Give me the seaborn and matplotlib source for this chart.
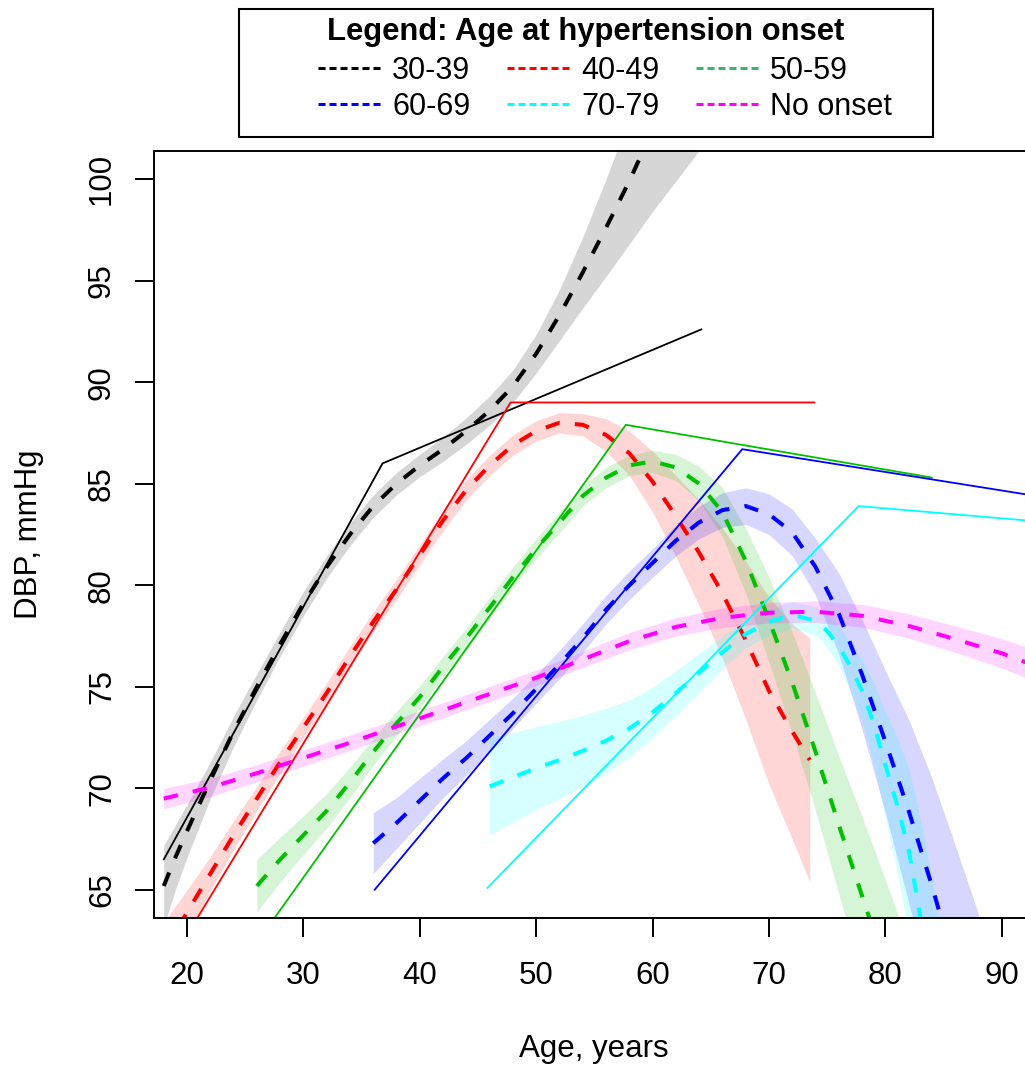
import matplotlib
matplotlib.use("Agg")
import matplotlib.pyplot as plt
from matplotlib.lines import Line2D
from matplotlib.patches import Rectangle
import numpy as np
import seaborn as sns

groups = ["30-39", "40-49", "50-59", "60-69", "70-79", "No onset"]
colors = ["#000000", "#FF0000", "#00C000", "#0000FF", "#00FFFF", "#FF00FF"]
legend_colors = ["#000000", "#FF0000", "#3CB371", "#0000FF", "#00FFFF", "#FF00FF"]

# fitted trajectories (dashed) and half-width of the confidence band
age_3039 = [18, 19, 20, 22, 24, 26, 28, 30, 32, 34, 36, 38, 40, 42, 44, 46, 48, 50, 52, 54, 56, 58, 60, 62, 64]
dbp_3039 = [65.2, 66.6, 67.9, 70.4, 72.8, 75.0, 77.1, 79.1, 80.9, 82.5, 83.9, 85.0, 85.9, 86.7, 87.6, 88.6,
            89.8, 91.4, 93.3, 95.4, 97.6, 99.9, 102.4, 105.0, 107.8]
ci_3039 = [2.0, 1.6, 1.3, 0.9, 0.75, 0.65, 0.6, 0.6, 0.55, 0.55, 0.55, 0.55, 0.55, 0.6, 0.65, 0.72,
           0.8, 0.95, 1.25, 1.75, 2.4, 3.1, 4.0, 5.1, 6.4]

age_4049 = [18, 20, 22, 24, 26, 28, 30, 32, 34, 36, 38, 40, 42, 44, 46, 48, 50, 52, 54, 56, 58, 60, 62, 64,
            66, 68, 70, 72, 73.5]
dbp_4049 = [61.9, 63.9, 65.8, 67.7, 69.5, 71.3, 73.0, 74.7, 76.5, 78.2, 79.8, 81.5, 83.2, 84.7, 85.9, 86.9,
            87.6, 88.0, 87.9, 87.4, 86.5, 85.1, 83.4, 81.6, 79.6, 77.3, 74.8, 72.8, 71.4]
ci_4049 = [1.5, 1.1, 0.85, 0.7, 0.6, 0.55, 0.5, 0.5, 0.5, 0.5, 0.5, 0.5, 0.5, 0.5, 0.5, 0.5, 0.5, 0.5, 0.55,
           0.8, 1.1, 1.5, 2.0, 2.6, 3.2, 3.9, 4.6, 5.3, 6.0]

age_5059 = [26, 28, 30, 32, 34, 36, 38, 40, 42, 44, 46, 48, 50, 52, 54, 56, 58, 60, 62, 64, 66, 68, 70, 72,
            74, 76, 78, 80, 82, 84]
dbp_5059 = [65.2, 66.5, 67.7, 68.9, 70.3, 71.8, 73.2, 74.5, 76.0, 77.4, 78.9, 80.4, 81.8, 83.1, 84.4, 85.3,
            85.9, 86.1, 85.8, 85.0, 83.6, 81.2, 78.3, 75.2, 71.8, 68.2, 64.7, 61.2, 57.5, 53.7]
ci_5059 = [1.3, 1.1, 0.95, 0.85, 0.75, 0.65, 0.6, 0.55, 0.5, 0.5, 0.5, 0.5, 0.5, 0.5, 0.5, 0.5, 0.5, 0.55,
           0.65, 0.85, 1.2, 1.6, 2.1, 2.5, 2.9, 3.4, 3.9, 4.3, 4.8, 5.3]

age_6069 = [36, 38, 40, 42, 44, 46, 48, 50, 52, 54, 56, 58, 60, 62, 64, 66, 68, 70, 72, 74, 76, 78, 80, 82,
            84, 86, 88]
dbp_6069 = [67.3, 68.3, 69.4, 70.5, 71.5, 72.6, 73.7, 74.9, 76.1, 77.4, 78.8, 80.0, 81.1, 82.2, 83.1, 83.7,
            83.9, 83.5, 82.6, 80.9, 78.6, 75.6, 72.3, 68.9, 65.2, 61.2, 57.0]
ci_6069 = [1.5, 1.25, 1.1, 0.95, 0.85, 0.8, 0.75, 0.7, 0.7, 0.7, 0.7, 0.7, 0.7, 0.75, 0.8, 0.85, 0.9, 1.0,
           1.15, 1.4, 2.0, 2.7, 3.5, 4.5, 5.3, 6.0, 6.8]

age_7079 = [46, 48, 50, 52, 54, 56, 58, 60, 62, 64, 66, 68, 70, 72, 74, 75, 76, 77, 78, 79, 80, 81, 82, 83,
            84, 85]
dbp_7079 = [70.1, 70.55, 71.0, 71.4, 71.85, 72.35, 72.95, 73.75, 74.7, 75.7, 76.7, 77.6, 78.2, 78.55, 78.25,
            77.75, 77.0, 76.0, 74.8, 73.2, 71.15, 69.2, 67.0, 63.7, 59.9, 55.9]
ci_7079 = [2.4, 2.2, 2.05, 1.9, 1.75, 1.6, 1.4, 1.25, 1.1, 0.95, 0.8, 0.7, 0.65, 0.65, 0.7, 0.8, 0.95, 1.2,
           1.5, 2.0, 2.6, 3.3, 4.0, 4.8, 5.6, 6.4]

age_none = [18, 22, 26, 30, 34, 38, 42, 46, 50, 54, 58, 62, 66, 70, 74, 78, 82, 86, 90, 94]
dbp_none = [69.5, 70.05, 70.75, 71.5, 72.25, 73.05, 73.85, 74.65, 75.45, 76.35, 77.25, 77.95, 78.4, 78.65,
            78.7, 78.5, 78.0, 77.35, 76.65, 75.8]
ci_none = [0.5, 0.45, 0.42, 0.4, 0.38, 0.37, 0.37, 0.37, 0.38, 0.4, 0.42, 0.45, 0.48, 0.5, 0.53, 0.56, 0.6,
           0.65, 0.72, 0.8]

# piecewise linear trajectories (solid)
seg_age_3039 = [18.0, 36.8, 64.2]
seg_dbp_3039 = [66.5, 86.0, 92.6]
seg_age_4049 = [18.0, 47.8, 73.9]
seg_dbp_4049 = [60.9, 89.0, 89.0]
seg_age_5059 = [26.0, 57.7, 84.0]
seg_dbp_5059 = [62.4, 87.9, 85.3]
seg_age_6069 = [36.1, 67.7, 94.0]
seg_dbp_6069 = [65.0, 86.7, 84.3]
seg_age_7079 = [45.8, 77.7, 94.0]
seg_dbp_7079 = [65.1, 83.9, 83.1]

fits = [(age_3039, dbp_3039, ci_3039), (age_4049, dbp_4049, ci_4049), (age_5059, dbp_5059, ci_5059),
        (age_6069, dbp_6069, ci_6069), (age_7079, dbp_7079, ci_7079), (age_none, dbp_none, ci_none)]
segs = [(seg_age_3039, seg_dbp_3039), (seg_age_4049, seg_dbp_4049), (seg_age_5059, seg_dbp_5059),
        (seg_age_6069, seg_dbp_6069), (seg_age_7079, seg_dbp_7079), None]

sns.set_style("ticks")
plt.rcParams["font.family"] = ["Liberation Sans", "DejaVu Sans"]
plt.rcParams["text.color"] = "black"

W, H = 1025, 1068
fig = plt.figure(figsize=(W / 100, H / 100), dpi=100, facecolor="white")
ax = fig.add_axes([154 / W, (H - 918) / H, (1046.5 - 154) / W, (918 - 150.7) / H])

for col, (a, d, h), seg in zip(colors, fits, segs):
    a = np.array(a)
    d = np.array(d)
    h = np.array(h)
    ax.fill_between(a, d - h, d + h, color=col, alpha=0.16, lw=0)
    sns.lineplot(x=a, y=d, color=col, lw=2.9, linestyle=(0, (3.6, 3.8)), ax=ax)
    if seg is not None:
        sns.lineplot(x=seg[0], y=seg[1], color=col, lw=1.3, ax=ax)

ax.set_xlim(17.165, 93.84)
ax.set_ylim(63.622, 101.393)
ax.set_xticks(range(20, 91, 10))
ax.set_yticks(range(65, 101, 5))
ax.tick_params(direction="out", length=13.7, width=1.4, color="black", labelcolor="black",
               labelsize=22.5, pad=17)
ax.tick_params(axis="y", labelrotation=90, pad=13)
plt.setp(ax.get_yticklabels(), va="center")
for s in ax.spines.values():
    s.set_linewidth(1.4)
    s.set_color("black")

ax.set_xlabel("Age, years", fontsize=22.5, va="center", color="black")
ax.xaxis.set_label_coords((594 - 154) / 892.5, (918 - 1049) / 767.3)
ax.set_ylabel("DBP, mmHg", fontsize=22.5, va="center", color="black")
ax.yaxis.set_label_coords((29 - 154) / 892.5, 0.5)

# legend: R-style box above the plot
order = [0, 3, 1, 4, 2, 5]
handles = [Line2D([], [], color=legend_colors[i], lw=2.2, linestyle=(0, (2.3, 1.3))) for i in order]
labels = [groups[i] for i in order]
fig.legend(handles, labels, ncol=3, loc="center", bbox_to_anchor=(605 / W, 1 - 89 / H),
           frameon=False, fontsize=22, handlelength=2.13, handletextpad=0.29, columnspacing=1.2,
           labelspacing=0.2, borderpad=0, borderaxespad=0)
fig.text(586 / W, 1 - 40 / H, "Legend: Age at hypertension onset", ha="center", va="baseline",
         fontsize=22.3, fontweight="bold")
fig.add_artist(Rectangle((239 / W, 1 - 137 / H), (933 - 239) / W, 128 / H, transform=fig.transFigure,
                         fill=False, lw=1.5, ec="black"))

fig.savefig("out.png", dpi=100)
